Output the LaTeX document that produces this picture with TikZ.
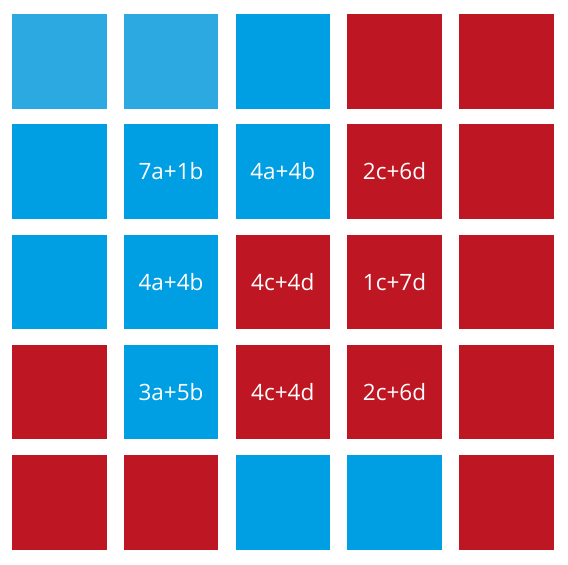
\documentclass[tikz,border=0pt]{standalone}
\usepackage{fontspec}
\setmainfont{Open Sans}
\usepackage{tikz}
\usetikzlibrary{positioning}
\usepackage{xcolor}

\definecolor{cellblue}{RGB}{0,159,227}
\definecolor{celllight}{RGB}{45,169,225}
\definecolor{cellred}{RGB}{190,22,34}

\begin{document}
\begin{tikzpicture}[
  x=1pt, y=1pt,
  font=\fontsize{22.5}{26}\selectfont,
  cell/.style={minimum size=94.5pt, inner sep=0pt, outer sep=0pt, text=white},
  bl/.style={cell, fill=cellblue},
  lb/.style={cell, fill=celllight},
  rd/.style={cell, fill=cellred},
  node distance=15.75pt and 17.25pt
]
\useasboundingbox (0,0) rectangle (568,-565);
% row 1
\node[lb] (c11) at (59.25,-61.25) {};
\node[lb, right=of c11] (c12) {};
\node[bl, right=of c12] (c13) {};
\node[rd, right=of c13] (c14) {};
\node[rd, right=of c14] (c15) {};
% row 2
\node[bl, below=of c11] (c21) {};
\node[bl, right=of c21] (c22) {7a+1b};
\node[bl, right=of c22] (c23) {4a+4b};
\node[rd, right=of c23] (c24) {2c+6d};
\node[rd, right=of c24] (c25) {};
% row 3
\node[bl, below=of c21] (c31) {};
\node[bl, right=of c31] (c32) {4a+4b};
\node[rd, right=of c32] (c33) {4c+4d};
\node[rd, right=of c33] (c34) {1c+7d};
\node[rd, right=of c34] (c35) {};
% row 4
\node[rd, below=of c31] (c41) {};
\node[bl, right=of c41] (c42) {3a+5b};
\node[rd, right=of c42] (c43) {4c+4d};
\node[rd, right=of c43] (c44) {2c+6d};
\node[rd, right=of c44] (c45) {};
% row 5
\node[rd, below=of c41] (c51) {};
\node[rd, right=of c51] (c52) {};
\node[bl, right=of c52] (c53) {};
\node[bl, right=of c53] (c54) {};
\node[rd, right=of c54] (c55) {};
\end{tikzpicture}
\end{document}
